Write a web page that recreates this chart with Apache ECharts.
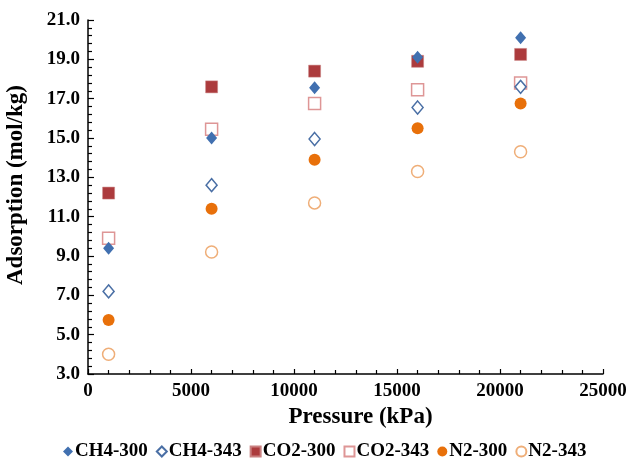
<!DOCTYPE html>
<html><head><meta charset="utf-8">
<script src="https://cdn.jsdelivr.net/npm/echarts@6/dist/echarts.min.js"></script>
<style>html,body{margin:0;padding:0;background:#fff}#c{width:628px;height:458px}</style>
</head><body><div id="c"></div>
<script>
var pressures = [1000, 6000, 11000, 16000, 21000];
var ch4_300 = [9.4, 15.0, 17.55, 19.1, 20.1];
var ch4_343 = [7.2, 12.6, 14.95, 16.55, 17.6];
var co2_300 = [12.2, 17.6, 18.4, 18.9, 19.25];
var co2_343 = [9.9, 15.45, 16.75, 17.45, 17.8];
var n2_300 = [5.75, 11.4, 13.9, 15.5, 16.75];
var n2_343 = [4.0, 9.2, 11.7, 13.3, 14.3];
var seriesNames = ['CH4-300','CH4-343','CO2-300','CO2-343','N2-300','N2-343'];

function pts(arr){ return pressures.map(function(p,i){ return [p, arr[i]]; }); }
var font = 'Liberation Serif';
var styles = [
  {symbol:'diamond', size:[11,13], item:{color:'#4170B0', opacity:1}},
  {symbol:'diamond', size:[11,13], item:{color:'#ffffff', borderColor:'#4A6FA5', borderWidth:1.5, opacity:1}},
  {symbol:'rect', size:12, item:{color:'#AC3B3D', borderColor:'#C98080', borderWidth:0.5, opacity:1}},
  {symbol:'rect', size:12, item:{color:'#ffffff', borderColor:'#DE9696', borderWidth:1.5, opacity:1}},
  {symbol:'circle', size:12, item:{color:'#E8700A', opacity:1}},
  {symbol:'circle', size:12, item:{color:'#ffffff', borderColor:'#EFAE78', borderWidth:1.5, opacity:1}}
];
var datas = [ch4_300, ch4_343, co2_300, co2_343, n2_300, n2_343];
var series = seriesNames.map(function(n,i){
  return {name:n, type:'scatter', data:pts(datas[i]), symbol:styles[i].symbol,
    symbolSize:styles[i].size, itemStyle:styles[i].item, z: 10 - i};
});
var chart = echarts.init(document.getElementById('c'));
chart.setOption({
  animation:false,
  grid:{left:88, top:20, right:25, bottom:84, outerBoundsMode:'none', containLabel:false},
  legend:{top:437, left:58, itemWidth:10, itemHeight:10, itemGap:8,
    textStyle:{fontFamily:font, fontWeight:'bold', fontSize:19, color:'#000', padding:[0,0,0,-3]},
    data: seriesNames},
  xAxis:{type:'value', min:0, max:25000, interval:5000,
    name:'Pressure (kPa)', nameLocation:'middle', nameGap:30,
    nameTextStyle:{fontFamily:font, fontWeight:'bold', fontSize:23, color:'#000', padding:[0,0,0,30]},
    axisLine:{show:true, lineStyle:{color:'#000', width:1.5}},
    axisTick:{show:true, inside:true, length:5, lineStyle:{color:'#000', width:1.2}},
    minorTick:{show:true, splitNumber:5, length:4, lineStyle:{color:'#000', width:1.2}},
    splitLine:{show:false},
    axisLabel:{fontFamily:font, fontWeight:'bold', fontSize:19, color:'#000', margin:8,
      formatter:function(v){return String(v);}}},
  yAxis:{type:'value', min:3, max:21, interval:2,
    name:'Adsorption (mol/kg)', nameLocation:'middle', nameGap:60, nameRotate:90,
    nameTextStyle:{fontFamily:font, fontWeight:'bold', fontSize:23, color:'#000', padding:[0,0,0,24]},
    axisLine:{show:true, lineStyle:{color:'#000', width:1.5}},
    axisTick:{show:true, inside:true, length:6, lineStyle:{color:'#000', width:1.2}},
    minorTick:{show:true, splitNumber:5, length:4, lineStyle:{color:'#000', width:1.2}},
    splitLine:{show:false},
    axisLabel:{fontFamily:font, fontWeight:'bold', fontSize:19, color:'#000', margin:8,
      formatter:function(v){return v.toFixed(1);}}},
  series: series
});
</script></body></html>
